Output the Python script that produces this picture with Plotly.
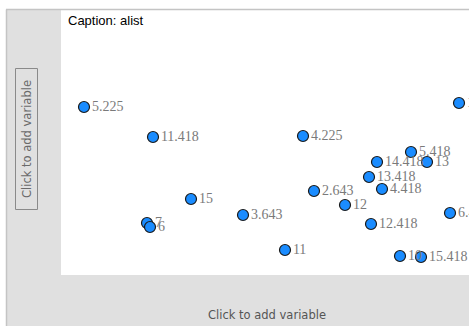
import plotly.graph_objects as go

# Point positions (horizontal / vertical position inside the plot frame) and captions
x_pos = [23, 92, 242, 398, 350, 316, 366, 308, 321, 253, 284, 130, 182, 389, 310, 86, 89, 224, 339, 360]
y_pos = [168, 138, 139, 172, 123, 113, 113, 98, 86, 84, 70, 76, 60, 62, 51, 52, 48, 25, 19, 18]
captions = ["5.225", "11.418", "4.225", "1.643", "5.418", "14.418", "13", "13.418", "4.418", "2.643",
            "12", "15", "3.643", "6.418", "12.418", "7", "6", "11", "10", "15.418"]

W, H = 469, 326
PX0, PX1 = 61, 469   # plot frame in pixels
PY0, PY1 = 10, 275

fig = go.Figure()
fig.add_trace(go.Scatter(
    x=x_pos, y=y_pos, text=captions, mode="markers+text",
    textposition="middle right",
    marker=dict(size=11, color="#1a8cff", line=dict(color="#1a1a1a", width=1.2)),
    textfont=dict(family="Liberation Serif, Times New Roman, serif", size=14, color="#7a7a7a"),
    cliponaxis=True, hoverinfo="skip", showlegend=False,
))

grey = "#e0e0e0"
shapes = [
    # left grey panel
    dict(type="rect", xref="paper", yref="paper", x0=7/W, x1=PX0/W, y0=0, y1=1-PY0/H,
         fillcolor=grey, line=dict(width=0), layer="below"),
    # bottom grey panel
    dict(type="rect", xref="paper", yref="paper", x0=7/W, x1=1, y0=0, y1=1-PY1/H,
         fillcolor=grey, line=dict(width=0), layer="below"),
    # left border line
    dict(type="line", xref="paper", yref="paper", x0=6.5/W, x1=6.5/W, y0=0, y1=1-9.5/H,
         line=dict(color="#c4c4c4", width=1.5)),
    # top border line
    dict(type="line", xref="paper", yref="paper", x0=6/W, x1=1, y0=1-9.5/H, y1=1-9.5/H,
         line=dict(color="#c4c4c4", width=1.5)),
    # left variable box
    dict(type="rect", xref="paper", yref="paper", x0=15.5/W, x1=37.5/W, y0=1-209.5/H, y1=1-68.5/H,
         fillcolor="rgba(0,0,0,0)", line=dict(color="#8a8a8a", width=1)),
]

annotations = [
    dict(text="Caption: alist", xref="paper", yref="paper", x=66/W, y=1-11/H,
         xanchor="left", yanchor="top", showarrow=False,
         font=dict(family="Liberation Sans, Arial, sans-serif", size=13, color="#000000")),
    dict(text="Click to add variable", xref="paper", yref="paper", x=267/W, y=1-315/H,
         xanchor="center", yanchor="middle", showarrow=False,
         font=dict(family="DejaVu Sans, sans-serif", size=11.5, color="#555555")),
    dict(text="Click to add variable", xref="paper", yref="paper", x=27/W, y=1-139/H,
         xanchor="center", yanchor="middle", showarrow=False, textangle=-90,
         font=dict(family="DejaVu Sans, sans-serif", size=11.5, color="#6a6a6a")),
]

fig.update_layout(
    width=W, height=H, margin=dict(l=0, r=0, t=0, b=0),
    paper_bgcolor="white", plot_bgcolor="white",
    shapes=shapes, annotations=annotations,
    xaxis=dict(domain=[PX0/W, PX1/W], range=[0, PX1-PX0], visible=False, fixedrange=True),
    yaxis=dict(domain=[1-PY1/H, 1-PY0/H], range=[0, PY1-PY0], visible=False, fixedrange=True),
)

fig.write_html("out.html", config={"staticPlot": True},
               post_script="document.body.style.margin='0';document.body.style.overflow='hidden';")
